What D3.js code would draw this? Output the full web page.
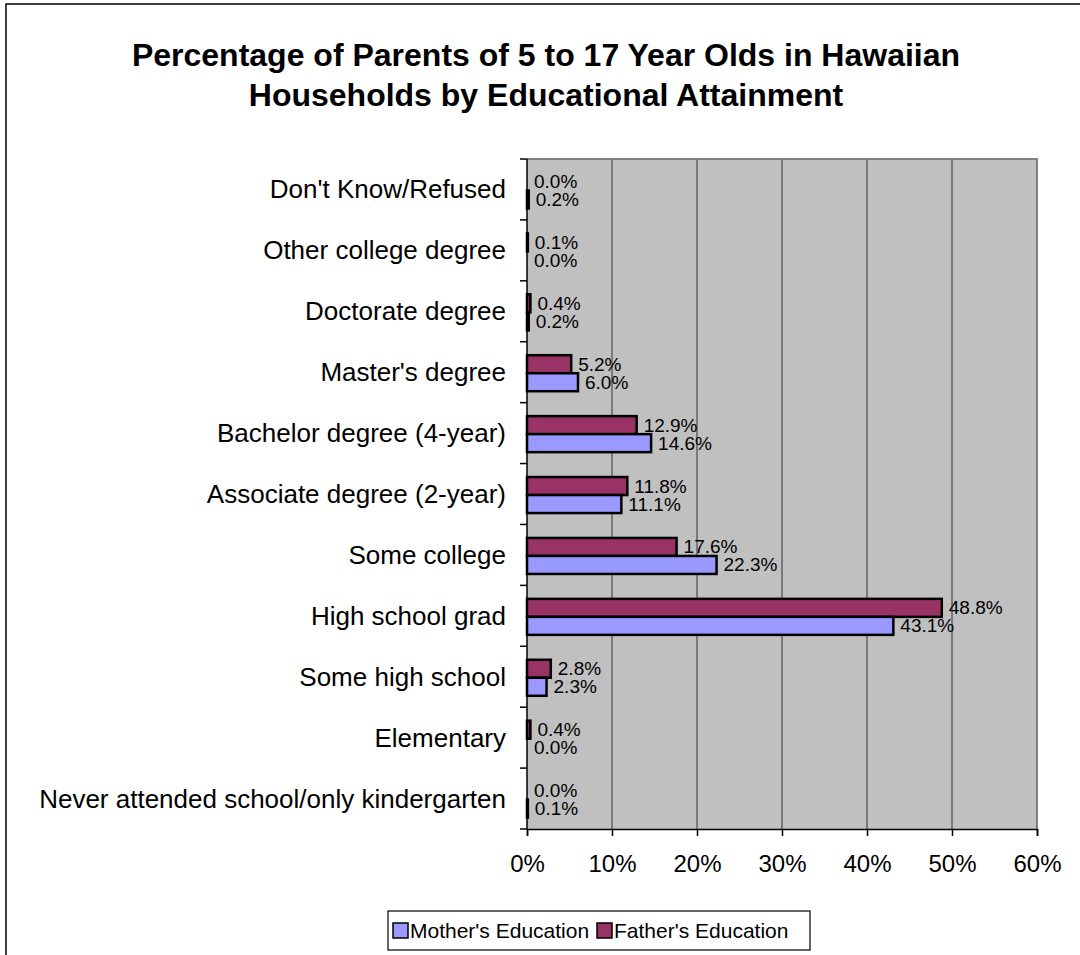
<!DOCTYPE html>
<html>
<head>
<meta charset="utf-8">
<script src="https://cdn.jsdelivr.net/npm/d3@7"></script>
<style>
  html, body { margin: 0; padding: 0; background: #fff; }
  svg { display: block; font-family: Arial, "Liberation Sans", sans-serif; }
</style>
</head>
<body>
<svg id="chart" width="1080" height="955"></svg>
<script>
// Education categories, listed from top of chart to bottom
const categories = [
  "Don't Know/Refused",
  "Other college degree",
  "Doctorate degree",
  "Master's degree",
  "Bachelor degree (4-year)",
  "Associate degree (2-year)",
  "Some college",
  "High school grad",
  "Some high school",
  "Elementary",
  "Never attended school/only kindergarten"
];
// Percentages per category (same order as categories)
const fatherValues = [0.0, 0.1, 0.4, 5.2, 12.9, 11.8, 17.6, 48.8, 2.8, 0.4, 0.0];
const motherValues = [0.2, 0.0, 0.2, 6.0, 14.6, 11.1, 22.3, 43.1, 2.3, 0.0, 0.1];
const seriesNames = ["Mother's Education", "Father's Education"];
const xTicks = [0, 10, 20, 30, 40, 50, 60];
const titleLines = [
  "Percentage of Parents of 5 to 17 Year Olds in Hawaiian",
  "Households by Educational Attainment"
];

const colors = { mother: "#9999FF", father: "#993366" };

const svg = d3.select("#chart");

// outer chart frame
svg.append("rect")
  .attr("x", 6).attr("y", 4)
  .attr("width", 1200).attr("height", 1200)
  .attr("fill", "none").attr("stroke", "#000").attr("stroke-width", 1.5);

// title
svg.append("g").selectAll("text")
  .data(titleLines)
  .join("text")
  .attr("x", 546)
  .attr("y", (d, i) => 66 + i * 40)
  .attr("text-anchor", "middle")
  .attr("font-size", 32)
  .attr("font-weight", "bold")
  .text(d => d);

const plot = { left: 527, right: 1037, top: 159, bottom: 829 };

const x = d3.scaleLinear().domain([0, 60]).range([plot.left, plot.right]);
const y = d3.scaleBand().domain(categories).range([plot.top, plot.bottom]);

// plot background
svg.append("rect")
  .attr("x", plot.left).attr("y", plot.top)
  .attr("width", plot.right - plot.left).attr("height", plot.bottom - plot.top)
  .attr("fill", "#C0C0C0");

// vertical gridlines
svg.append("g").selectAll("line")
  .data(xTicks.slice(1, -1))
  .join("line")
  .attr("x1", d => x(d)).attr("x2", d => x(d))
  .attr("y1", plot.top).attr("y2", plot.bottom)
  .attr("stroke", "#333").attr("stroke-width", 1);

// plot border (top & right)
svg.append("path")
  .attr("d", `M${plot.left},${plot.top}H${plot.right}V${plot.bottom}`)
  .attr("fill", "none").attr("stroke", "#808080").attr("stroke-width", 2);

// bars with value labels
const barH = 18;
const groupOffset = 13.5;
const rows = categories.map((c, i) => ({ cat: c, father: fatherValues[i], mother: motherValues[i] }));

const barG = svg.append("g");
rows.forEach(r => {
  const y0 = y(r.cat) + groupOffset;
  [["father", 0], ["mother", 1]].forEach(([key, k]) => {
    const v = r[key];
    const by = y0 + k * barH;
    barG.append("rect")
      .attr("x", x(0))
      .attr("y", by)
      .attr("width", x(v) - x(0))
      .attr("height", barH)
      .attr("fill", colors[key])
      .attr("stroke", "#000")
      .attr("stroke-width", 2.5);
    barG.append("text")
      .attr("x", x(v) + 7)
      .attr("y", by + barH / 2 + 6.5)
      .attr("font-size", 19)
      .attr("fill", "#000")
      .text(v.toFixed(1) + "%");
  });
});

// y axis
const yAxis = svg.append("g")
  .attr("transform", `translate(${plot.left},0)`);
yAxis.append("line")
  .attr("x1", 0).attr("x2", 0)
  .attr("y1", plot.top).attr("y2", plot.bottom)
  .attr("stroke", "#000").attr("stroke-width", 1.5);
const yTickPos = categories.map(c => y(c)).concat([plot.bottom]);
yAxis.selectAll(".yt")
  .data(yTickPos)
  .join("line")
  .attr("x1", -7).attr("x2", 0)
  .attr("y1", d => d).attr("y2", d => d)
  .attr("stroke", "#000").attr("stroke-width", 1.5);
svg.append("g").selectAll("text")
  .data(categories)
  .join("text")
  .attr("x", 506)
  .attr("y", d => y(d) + y.bandwidth() / 2 + 9)
  .attr("text-anchor", "end")
  .attr("font-size", 26)
  .text(d => d);

// x axis
const xAxis = d3.axisBottom(x)
  .tickValues(xTicks)
  .tickSize(7)
  .tickPadding(4)
  .tickFormat(d => d + "%");
const xg = svg.append("g")
  .attr("transform", `translate(0,${plot.bottom})`)
  .call(xAxis);
xg.select(".domain").attr("stroke", "#000").attr("stroke-width", 1.5);
xg.selectAll(".tick line").attr("stroke", "#000").attr("stroke-width", 1.5);
xg.selectAll(".tick text")
  .attr("font-size", 24)
  .attr("font-family", "Arial, 'Liberation Sans', sans-serif")
  .attr("fill", "#000")
  .attr("dy", "1.35em");

// legend
const legend = svg.append("g");
legend.append("rect")
  .attr("x", 388).attr("y", 911)
  .attr("width", 422).attr("height", 39)
  .attr("fill", "#fff").attr("stroke", "#000").attr("stroke-width", 1.2);
const legendItems = [
  { name: seriesNames[0], color: colors.mother, x: 393 },
  { name: seriesNames[1], color: colors.father, x: 597 }
];
legendItems.forEach(it => {
  legend.append("rect")
    .attr("x", it.x).attr("y", 923)
    .attr("width", 15).attr("height", 15)
    .attr("fill", it.color).attr("stroke", "#000").attr("stroke-width", 1.5);
  legend.append("text")
    .attr("x", it.x + 17).attr("y", 938)
    .attr("font-size", 21)
    .text(it.name);
});
</script>
</body>
</html>
